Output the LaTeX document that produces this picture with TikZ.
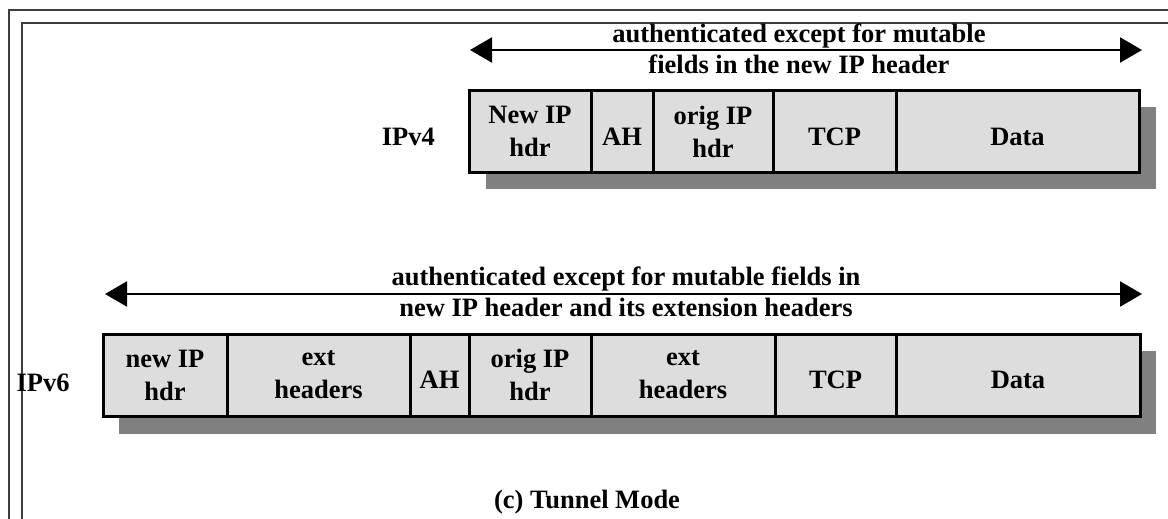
\documentclass[tikz,border=0pt]{standalone}
\usepackage{fontspec}
\setmainfont{Liberation Serif}
\usetikzlibrary{arrows.meta}
\definecolor{segfill}{RGB}{221,221,221}
\definecolor{shadowgray}{RGB}{128,128,128}
\definecolor{framegray}{RGB}{60,60,60}
\tikzset{
  seg/.style={draw=black, line width=3pt, fill=segfill, inner sep=0pt, align=center,
              font=\fontsize{26.5}{33}\selectfont\bfseries},
  oneline/.style={text height=27pt, text depth=0pt},
  twoline/.style={yshift=0pt},
  shadowbox/.style={fill=shadowgray, draw=none},
  span/.style={line width=2.2pt, {Triangle[length=22pt,width=25pt]}-{Triangle[length=22pt,width=25pt]}},
  spantext/.style={inner sep=0pt, align=center, font=\fontsize{26.5}{31.5}\selectfont\bfseries},
  lbl/.style={inner sep=0pt, font=\fontsize{26.5}{31.5}\selectfont\bfseries},
  frameline/.style={draw=framegray, line width=1.5pt}
}
\begin{document}
\begin{tikzpicture}[x=1pt,y=-1pt]
\useasboundingbox (0,0) rectangle (1168,519);
% frame
\draw[frameline] (9,519) -- (9,10) -- (1168,10);
\draw[frameline] (22,519) -- (22,23) -- (1168,23);

% ---------- IPv4 ----------
\fill[shadowbox] (486,107) rectangle (1156,189);
\node[seg, twoline, minimum width=122pt, minimum height=81pt] (v4a) at (530,131.5) {New IP\\hdr};
\node[seg, oneline, minimum width=62pt, minimum height=81pt] (v4b) at (622,131.5) {AH};
\node[seg, twoline, minimum width=120pt, minimum height=81pt] (v4c) at (713,131.5) {orig IP\\hdr};
\node[seg, oneline, minimum width=123pt, minimum height=81pt] (v4d) at (834.5,131.5) {TCP};
\node[seg, oneline, minimum width=243pt, minimum height=81pt] (v4e) at (1017.5,131.5) {Data};
\node[lbl, anchor=east] (v4lbl) at (435,137) {IPv4};
\coordinate (v4l) at (470,50);
\coordinate (v4r) at (1142,50);
\draw[span] (v4l) -- (v4r);
\node[spantext] (v4txt) at (799,49) {authenticated except for mutable\\fields in the new IP header};

% ---------- IPv6 ----------
\fill[shadowbox] (119,351) rectangle (1156,434);
\node[seg, twoline, minimum width=124pt, minimum height=82pt] (v6a) at (165,375) {new IP\\hdr};
\node[seg, twoline, minimum width=183pt, minimum height=82pt] (v6b) at (318.5,375) {ext\\headers};
\node[seg, oneline, minimum width=59pt, minimum height=82pt] (v6c) at (439.5,375) {AH};
\node[seg, twoline, minimum width=122pt, minimum height=82pt] (v6d) at (530,375) {orig IP\\hdr};
\node[seg, twoline, minimum width=184pt, minimum height=82pt] (v6e) at (683,375) {ext\\headers};
\node[seg, oneline, minimum width=121pt, minimum height=82pt] (v6f) at (835.5,375) {TCP};
\node[seg, oneline, minimum width=244pt, minimum height=82pt] (v6g) at (1018,375) {Data};
\node[lbl] (v6lbl) at (43,382.5) {IPv6};
\coordinate (v6l) at (105,294);
\coordinate (v6r) at (1142,294);
\draw[span] (v6l) -- (v6r);
\node[spantext] (v6txt) at (626,292) {authenticated except for mutable fields in\\new IP header and its extension headers};

% caption
\node[lbl, anchor=base] (cap) at (587,508) {(c) Tunnel Mode};
\end{tikzpicture}
\end{document}
